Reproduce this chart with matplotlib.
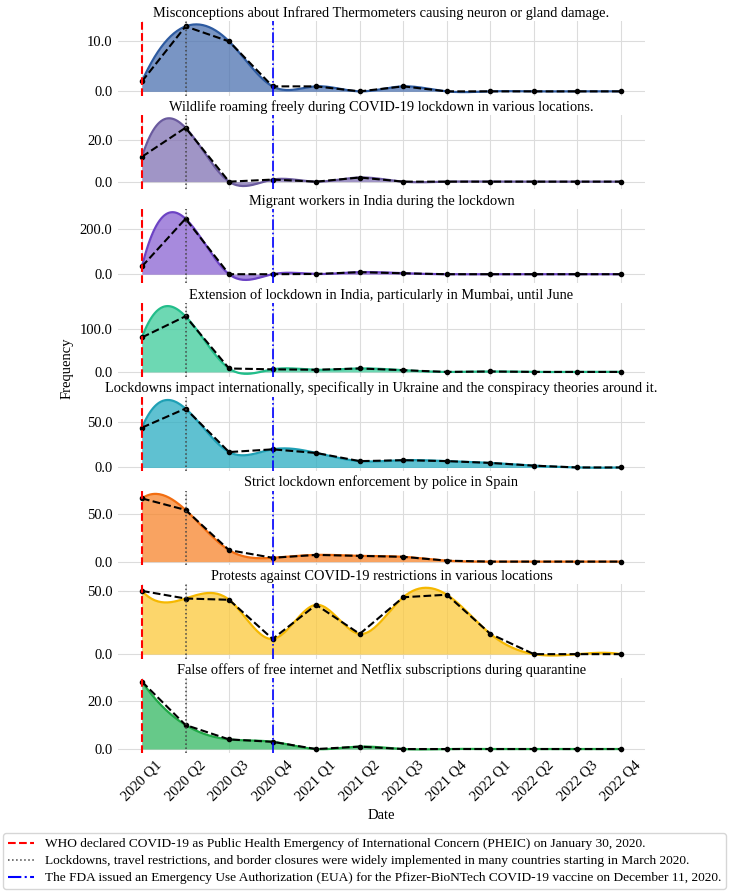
import numpy as np
import matplotlib
matplotlib.use("Agg")
import matplotlib.pyplot as plt
from matplotlib.ticker import FormatStrFormatter
from matplotlib.lines import Line2D

plt.rcParams['font.family'] = ['Liberation Serif', 'DejaVu Serif']

quarters = ["2020 Q1", "2020 Q2", "2020 Q3", "2020 Q4",
            "2021 Q1", "2021 Q2", "2021 Q3", "2021 Q4",
            "2022 Q1", "2022 Q2", "2022 Q3", "2022 Q4"]

titles = [
    "Misconceptions about Infrared Thermometers causing neuron or gland damage.",
    "Wildlife roaming freely during COVID-19 lockdown in various locations.",
    "Migrant workers in India during the lockdown",
    "Extension of lockdown in India, particularly in Mumbai, until June",
    "Lockdowns impact internationally, specifically in Ukraine and the conspiracy theories around it.",
    "Strict lockdown enforcement by police in Spain",
    "Protests against COVID-19 restrictions in various locations",
    "False offers of free internet and Netflix subscriptions during quarantine",
]

thermometers = [2, 13, 10, 1, 1, 0, 1, 0, 0, 0, 0, 0]
wildlife = [12, 26, 0, 1, 0, 2, 0, 0, 0, 0, 0, 0]
migrants = [34, 244, 0, 0, 1, 9, 4, 0, 0, 0, 0, 0]
mumbai = [80, 129, 8, 6, 5, 8, 4, 0, 1, 0, 0, 0]
ukraine = [44, 65, 17, 20, 16, 7, 8, 7, 5, 2, 0, 0]
spain = [66, 54, 12, 4, 7, 6, 5, 1, 0, 0, 0, 0]
protests = [50, 44, 43, 12, 39, 16, 45, 47, 16, 0, 0, 0]
netflix = [28, 10, 4, 3, 0, 1, 0, 0, 0, 0, 0, 0]

series = [thermometers, wildlife, migrants, mumbai, ukraine, spain, protests, netflix]

yticks = [[0, 10], [0, 20], [0, 200], [0, 100], [0, 50], [0, 50], [0, 50], [0, 20]]

fill_colors = ["#4C72B0", "#8172B3", "#8A63D2", "#3CCB9A",
               "#2AADC2", "#F7852C", "#FCC93A", "#33B862"]
line_colors = ["#2D5AA0", "#6A5A9E", "#6C43C4", "#22BD8A",
               "#1FA0B5", "#F26D10", "#F5B800", "#1FA846"]

events = [0, 1, 3]
event_labels = [
    "WHO declared COVID-19 as Public Health Emergency of International Concern (PHEIC) on January 30, 2020.",
    "Lockdowns, travel restrictions, and border closures were widely implemented in many countries starting in March 2020.",
    "The FDA issued an Emergency Use Authorization (EUA) for the Pfizer-BioNTech COVID-19 vaccine on December 11, 2020.",
]


def spline_notaknot(x, y, xs):
    x = np.asarray(x, float)
    y = np.asarray(y, float)
    n = len(x)
    h = np.diff(x)
    A = np.zeros((n, n))
    b = np.zeros(n)
    for i in range(1, n - 1):
        A[i, i - 1] = h[i - 1]
        A[i, i] = 2 * (h[i - 1] + h[i])
        A[i, i + 1] = h[i]
        b[i] = 6 * ((y[i + 1] - y[i]) / h[i] - (y[i] - y[i - 1]) / h[i - 1])
    A[0, 0] = h[1]
    A[0, 1] = -(h[0] + h[1])
    A[0, 2] = h[0]
    A[n - 1, n - 3] = h[n - 2]
    A[n - 1, n - 2] = -(h[n - 3] + h[n - 2])
    A[n - 1, n - 1] = h[n - 3]
    M = np.linalg.solve(A, b)
    idx = np.clip(np.searchsorted(x, xs) - 1, 0, n - 2)
    x0 = x[idx]
    x1 = x[idx + 1]
    hh = x1 - x0
    a = (x1 - xs) / hh
    c = (xs - x0) / hh
    return (a * y[idx] + c * y[idx + 1]
            + ((a ** 3 - a) * M[idx] + (c ** 3 - c) * M[idx + 1]) * hh ** 2 / 6)


W, H = 729, 893
fig = plt.figure(figsize=(W / 100, H / 100), dpi=100)
left_px, right_px = 118, 645
top0, pitch, height = 21, 93.9, 74.5

x = np.arange(len(quarters))
xs = np.linspace(0, len(quarters) - 1, 300)
axes = []
for i, (vals, title) in enumerate(zip(series, titles)):
    top = top0 + pitch * i
    ax = fig.add_axes([left_px / W, 1 - (top + height) / H,
                       (right_px - left_px) / W, height / H])
    axes.append(ax)
    ys = spline_notaknot(x, vals, xs)
    ax.fill_between(xs, ys, 0, color=fill_colors[i], alpha=0.75, lw=0)
    ax.plot(xs, ys, color=line_colors[i], lw=1.6)
    ax.plot(x, vals, color="black", ls="--", lw=1.5, marker="o", ms=3)
    ax.axvline(events[0], color="red", ls="--", lw=1.5)
    ax.axvline(events[1], color="#444444", ls=":", lw=1.1)
    ax.axvline(events[2], color="blue", ls="-.", lw=1.2)
    ax.set_title(title, fontsize=10.4, pad=3)
    ax.set_yticks(yticks[i])
    ax.yaxis.set_major_formatter(FormatStrFormatter('%.1f'))
    ax.set_xticks(x)
    ax.grid(True, color="#dcdcdc", lw=0.8)
    ax.set_axisbelow(True)
    for s in ax.spines.values():
        s.set_visible(False)
    ax.tick_params(length=0, labelsize=10.5, pad=4)
    if i < len(series) - 1:
        ax.set_xticklabels([])
    else:
        ax.set_xticklabels(quarters, rotation=45)
        ax.set_xlabel("Date", fontsize=10.5, labelpad=4)

fig.text(67 / W, 1 - 368 / H, "Frequency", rotation=90, fontsize=10.5,
         ha="center", va="center")

handles = [Line2D([], [], color="red", ls="--", lw=1.5),
           Line2D([], [], color="#444444", ls=":", lw=1.1),
           Line2D([], [], color="blue", ls="-.", lw=1.5)]
fig.legend(handles, event_labels, loc="lower left",
           bbox_to_anchor=(3 / W, 4 / H, (726 - 3) / W, 60 / H),
           mode="expand", fontsize=9.6, frameon=True, edgecolor="#cccccc",
           borderaxespad=0, handlelength=2.0, handletextpad=0.8,
           borderpad=0.35, labelspacing=0.35)

fig.savefig("out.png", dpi=100)
